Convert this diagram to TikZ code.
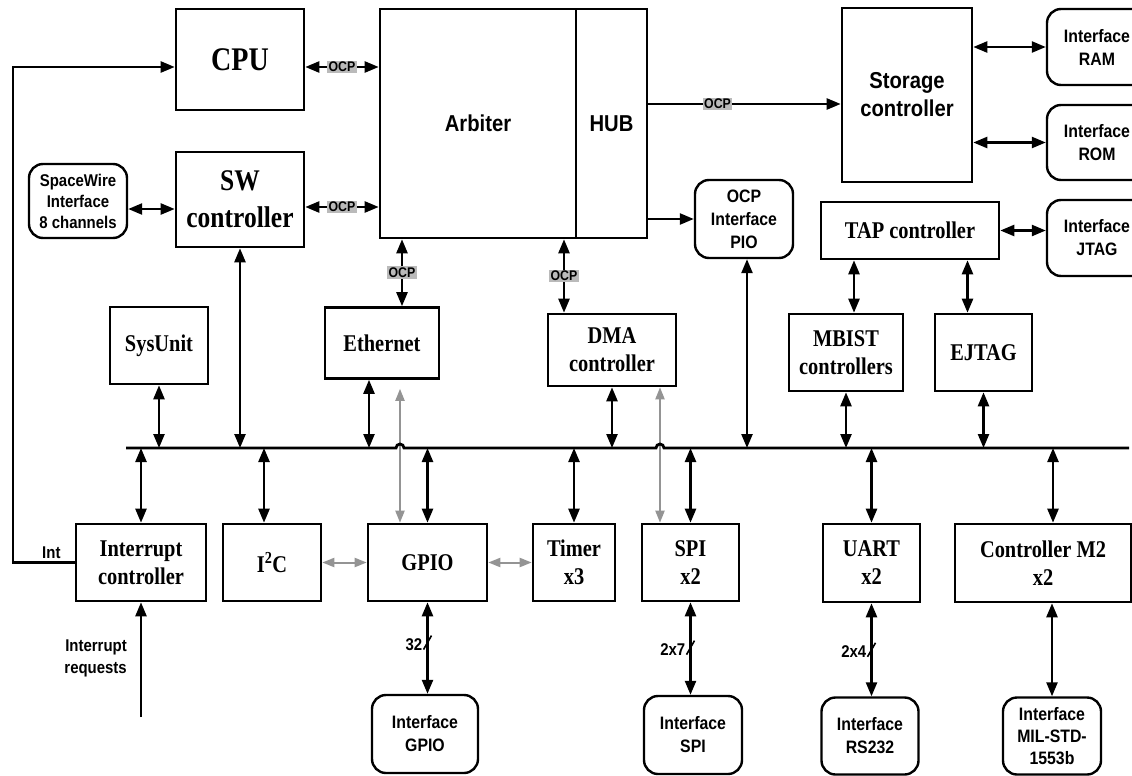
\documentclass[tikz,border=0pt]{standalone}
\usepackage{fontspec}
\newfontfamily\tnrfont{Liberation Serif}[FakeStretch=0.85]
\newfontfamily\arlfont{Liberation Sans}[FakeStretch=0.88]
\usetikzlibrary{arrows.meta,calc,positioning}

\tikzset{
  blk/.style={draw, line width=2.6pt, inner sep=0pt, align=center,
    font=\tnrfont\bfseries\fontsize{24}{28}\selectfont},
  sblk/.style={blk, font=\arlfont\bfseries\fontsize{23}{28}\selectfont},
  ifc/.style={draw, line width=2.4pt, rounded corners=14pt, inner sep=0pt, align=center,
    font=\arlfont\bfseries\fontsize{18}{23}\selectfont},
  ocp/.style={fill=black!27, inner sep=1.5pt, font=\arlfont\bfseries\fontsize{14}{14}\selectfont},
  lbl/.style={inner sep=0pt, font=\arlfont\bfseries\fontsize{17}{22}\selectfont},
  wire/.style={line width=2.4pt},
  gbi/.style={draw=black!42, line width=2pt, >={Triangle[length=12pt,width=9pt]}, <->},
  slash/.style={line width=1.6pt}
}

\begin{document}
\begin{tikzpicture}[x=1pt, y=-1pt, >={Triangle[length=14pt,width=11pt]}]
\useasboundingbox (0,0) rectangle (1132,776);
\clip (0,0) rectangle (1132,776);

\node[blk, minimum width=128pt, minimum height=101pt, font=\tnrfont\bfseries\fontsize{33}{36}\selectfont] (cpu) at (240,59.5) {CPU};
\node[blk, minimum width=128pt, minimum height=95pt, font=\tnrfont\bfseries\fontsize{30}{37}\selectfont] (sw) at (240,199.5) {SW\\controller};
\node[ifc, minimum width=98pt, minimum height=74pt, font=\arlfont\bfseries\fontsize{17}{21}\selectfont] (spw) at (78,201) {SpaceWire\\Interface\\8 channels};
\node[sblk, minimum width=196pt, minimum height=229pt] (arb) at (478,123.5) {Arbiter};
\node[sblk, minimum width=71pt, minimum height=229pt] (hub) at (611.5,123.5) {HUB};
\node[sblk, minimum width=130pt, minimum height=174pt] (sto) at (907,95) {Storage\\controller};
\node[ifc, minimum width=100pt, minimum height=76pt] (ram) at (1097,47) {Interface\\RAM};
\node[ifc, minimum width=100pt, minimum height=75pt] (rom) at (1097,142.5) {Interface\\ROM};
\node[ifc, minimum width=98pt, minimum height=78pt] (pio) at (744,219) {OCP\\Interface\\PIO};
\node[blk, minimum width=178pt, minimum height=57pt] (tap) at (910,230.5) {TAP controller};
\node[ifc, minimum width=100pt, minimum height=76pt] (jtag) at (1097,238) {Interface\\JTAG};

\node[blk, minimum width=98pt, minimum height=77pt] (sys) at (159,345.5) {SysUnit};
\node[blk, minimum width=114pt, minimum height=71pt] (eth) at (382,343) {Ethernet};
\node[blk, minimum width=128pt, minimum height=72pt] (dma) at (612,350) {DMA\\controller};
\node[blk, minimum width=114pt, minimum height=77pt] (mbist) at (846,352.5) {MBIST\\controllers};
\node[blk, minimum width=97pt, minimum height=77pt] (ejtag) at (983.5,352.5) {EJTAG};

\node[blk, minimum width=130pt, minimum height=77pt] (intc) at (141,562.5) {Interrupt\\controller};
\node[blk, minimum width=98pt, minimum height=77pt] (i2c) at (272,562.5) {I\textsuperscript{2}C};
\node[blk, minimum width=119pt, minimum height=77pt] (gpio) at (427.5,562.5) {GPIO};
\node[blk, minimum width=82pt, minimum height=77pt] (tmr) at (574,562.5) {Timer\\x3};
\node[blk, minimum width=97pt, minimum height=77pt] (spi) at (690.5,562.5) {SPI\\x2};
\node[blk, minimum width=97pt, minimum height=78pt] (uart) at (871.5,563) {UART\\x2};
\node[blk, minimum width=176pt, minimum height=78pt] (m2) at (1043,563) {Controller M2\\x2};

\node[ifc, minimum width=106pt, minimum height=78pt] (ifgpio) at (425,734) {Interface\\GPIO};
\node[ifc, minimum width=98pt, minimum height=78pt] (ifspi) at (693,735) {Interface\\SPI};
\node[ifc, minimum width=97pt, minimum height=77pt] (ifrs) at (870,736) {Interface\\RS232};
\node[ifc, minimum width=98pt, minimum height=77pt, font=\arlfont\bfseries\fontsize{18}{22}\selectfont] (ifmil) at (1052,736) {Interface\\MIL-STD-\\1553b};

\coordinate (busL) at (126,448);
\coordinate (busR) at (1129,448);
\coordinate (fb) at (13,0);
\coordinate (irq) at (141,717);

\draw[wire, <->] ([yshift=-7.5pt]cpu.east) -- node[ocp] {OCP} ([yshift=-7.5pt]cpu.east -| arb.west);
\draw[wire, <->] ([yshift=-7.5pt]sw.east) -- node[ocp] {OCP} ([yshift=-7.5pt]sw.east -| arb.west);
\draw[wire, <->] ([yshift=-8pt]spw.east) -- ([yshift=-8pt]spw.east -| sw.west);
\draw[wire, <->] ([xshift=20pt]eth.north |- arb.south) -- node[ocp] {OCP} ([xshift=20pt]eth.north);
\draw[wire, <->] ([xshift=-48pt]dma.north |- arb.south) -- node[ocp] {OCP} ([xshift=-48pt]dma.north);
\draw[wire, ->] ([yshift=19.5pt]hub.east) -- node[ocp, pos=0.36] {OCP} ([yshift=19.5pt]hub.east -| sto.west);
\draw[wire, ->] (pio.west -| hub.east) -- (pio.west);
\draw[wire, <->] (ram.west -| sto.east) -- (ram.west);
\draw[wire, <->] (rom.west -| sto.east) -- (rom.west);
\draw[wire, <->] (tap.east) -- (tap.east -| jtag.west);
\draw[wire, <->] ([xshift=8pt]mbist.north |- tap.south) -- ([xshift=8pt]mbist.north);
\draw[wire, <->] ([xshift=-16pt]ejtag.north |- tap.south) -- ([xshift=-16pt]ejtag.north);

\draw[gbi, shorten <=9pt] ([xshift=18pt]eth.south) -- ([xshift=18pt]eth.south |- gpio.north);
\draw[gbi] ([xshift=48pt]dma.south) -- ([xshift=48pt]dma.south |- spi.north);
\draw[gbi] (i2c.east) -- (i2c.east -| gpio.west);
\draw[gbi] (gpio.east) -- (gpio.east -| tmr.west);

\draw[line width=2.8pt] (busL) -- (396,448) arc[start angle=180, end angle=360, radius=4]
  -- (656,448) arc[start angle=180, end angle=360, radius=4] -- (busR);

\foreach \n in {sys,sw,dma,mbist,ejtag}
  \draw[wire, <->] (\n.south) -- (\n.south |- busL);
\draw[wire, <->] ([xshift=-13pt]eth.south) -- ([xshift=-13pt]eth.south |- busL);
\draw[wire, <->] ([xshift=3pt]pio.south) -- ([xshift=3pt]pio.south |- busL);
\foreach \n in {intc,gpio,tmr,spi,uart}
  \draw[wire, <->] (\n.north) -- (\n.north |- busL);
\draw[wire, <->] ([xshift=-8pt]i2c.north) -- ([xshift=-8pt]i2c.north |- busL);
\draw[wire, <->] ([xshift=10pt]m2.north) -- ([xshift=10pt]m2.north |- busL);

\draw[wire, ->] (intc.west) -- (intc.west -| fb) |- ([yshift=-7.5pt]cpu.west);
\node[lbl, above left=4pt and 14pt of intc.west] (intlbl) {Int};
\draw[wire, ->] (irq) -- (intc.south);
\node[lbl, align=right, anchor=east] (irqlbl) at (127,658) {Interrupt\\requests};

\draw[wire, <->] (gpio.south) -- coordinate[pos=0.44] (s32) (gpio.south |- ifgpio.north);
\draw[wire, <->] (spi.south) -- coordinate[pos=0.49] (s27) (spi.south |- ifspi.north);
\draw[wire, <->] (uart.south) -- coordinate[pos=0.5] (s24) (uart.south |- ifrs.north);
\draw[wire, <->] (ifmil.north |- m2.south) -- (ifmil.north);
\draw[slash] ($(s32)+(-4,7)$) -- ($(s32)+(4,-7)$);
\draw[slash] ($(s27)+(-4,7)$) -- ($(s27)+(4,-7)$);
\draw[slash] ($(s24)+(-4,7)$) -- ($(s24)+(4,-7)$);
\node[lbl, anchor=east] (w32) at ($(s32)+(-5,2)$) {32};
\node[lbl, anchor=east] (w27) at ($(s27)+(-5,2)$) {2x7};
\node[lbl, anchor=east] (w24) at ($(s24)+(-5,2)$) {2x4};
\end{tikzpicture}
\end{document}
